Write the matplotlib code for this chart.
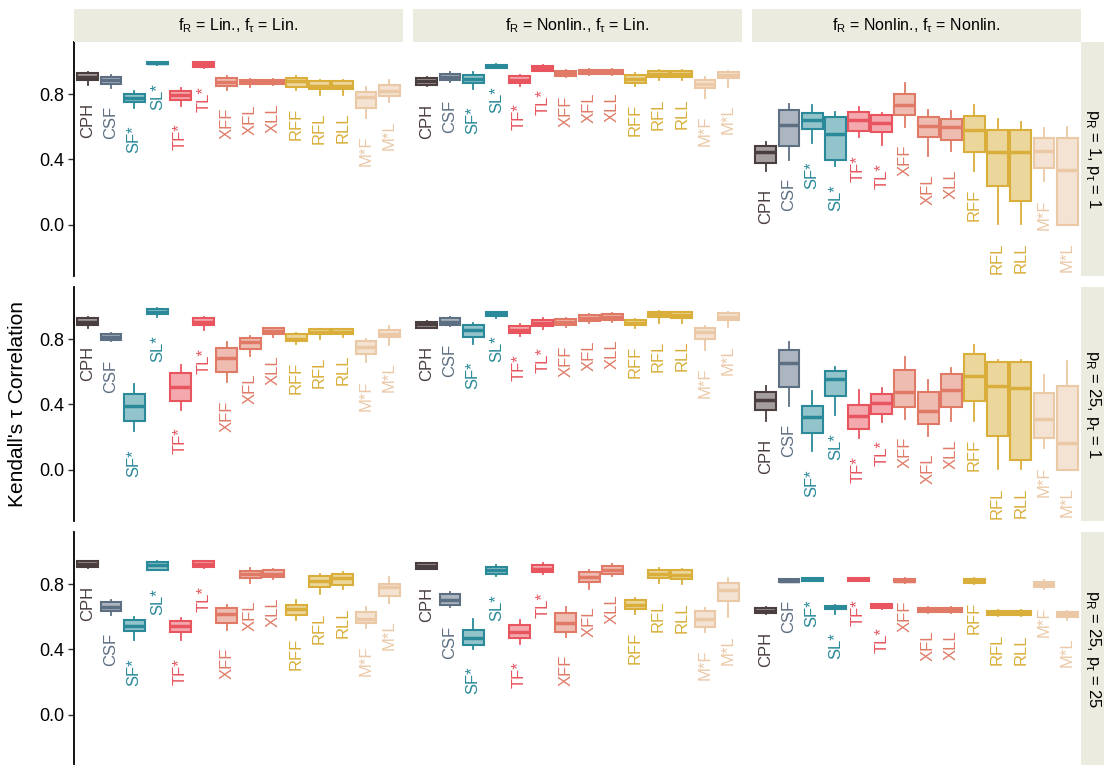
import matplotlib
matplotlib.use("Agg")
import matplotlib.pyplot as plt
from matplotlib.colors import to_rgba
from matplotlib.patches import Rectangle

plt.rcParams['font.family'] = ['Liberation Sans', 'DejaVu Sans']

methods = ["CPH", "CSF", "SF*", "SL*", "TF*", "TL*", "XFF", "XFL", "XLL",
           "RFF", "RFL", "RLL", "M*F", "M*L"]
colors = ["#4a3e3e", "#5d6f82", "#2a8a99", "#2a8a99", "#e8555f", "#e8555f",
          "#e07a66", "#e07a66", "#e07a66", "#d9ae3a", "#d9ae3a", "#d9ae3a",
          "#ebc8a6", "#ebc8a6"]

col_titles = ["f$_\\mathregular{R}$ = Lin., f$_\\mathregular{τ}$ = Lin.",
              "f$_\\mathregular{R}$ = Nonlin., f$_\\mathregular{τ}$ = Lin.",
              "f$_\\mathregular{R}$ = Nonlin., f$_\\mathregular{τ}$ = Nonlin."]
row_titles = ["p$_\\mathregular{R}$ = 1, p$_\\mathregular{τ}$ = 1",
              "p$_\\mathregular{R}$ = 25, p$_\\mathregular{τ}$ = 1",
              "p$_\\mathregular{R}$ = 25, p$_\\mathregular{τ}$ = 25"]

# (whisker low, q1, median, q3, whisker high) for each method
lin_lin_p1 = [
    (0.857, 0.884, 0.904, 0.929, 0.939), (0.839, 0.863, 0.884, 0.908, 0.920),
    (0.716, 0.751, 0.776, 0.802, 0.822), (0.978, 0.986, 0.994, 1.000, 1.000),
    (0.729, 0.765, 0.792, 0.822, 0.839), (0.961, 0.969, 0.986, 0.996, 1.000),
    (0.827, 0.853, 0.873, 0.898, 0.914), (0.847, 0.863, 0.876, 0.888, 0.892),
    (0.855, 0.863, 0.876, 0.888, 0.892), (0.827, 0.847, 0.878, 0.900, 0.914),
    (0.796, 0.833, 0.853, 0.878, 0.888), (0.798, 0.833, 0.853, 0.878, 0.884),
    (0.655, 0.716, 0.782, 0.816, 0.847), (0.751, 0.786, 0.822, 0.859, 0.884)]
nonlin_lin_p1 = [
    (0.851, 0.857, 0.878, 0.902, 0.904), (0.873, 0.884, 0.904, 0.924, 0.935),
    (0.833, 0.867, 0.894, 0.920, 0.935), (0.959, 0.963, 0.971, 0.980, 0.984),
    (0.853, 0.871, 0.890, 0.910, 0.920), (0.941, 0.945, 0.959, 0.971, 0.978),
    (0.904, 0.912, 0.929, 0.943, 0.949), (0.920, 0.924, 0.937, 0.949, 0.953),
    (0.920, 0.924, 0.937, 0.949, 0.953), (0.853, 0.869, 0.894, 0.918, 0.929),
    (0.884, 0.908, 0.924, 0.941, 0.949), (0.884, 0.908, 0.924, 0.941, 0.949),
    (0.778, 0.837, 0.863, 0.888, 0.904), (0.847, 0.898, 0.918, 0.939, 0.945)]
nonlin_nonlin_p1 = [
    (0.329, 0.380, 0.445, 0.480, 0.506), (0.398, 0.482, 0.608, 0.704, 0.737),
    (0.500, 0.588, 0.643, 0.686, 0.731), (0.357, 0.394, 0.553, 0.659, 0.690),
    (0.537, 0.573, 0.643, 0.690, 0.720), (0.486, 0.569, 0.622, 0.671, 0.686),
    (0.598, 0.673, 0.735, 0.802, 0.867), (0.418, 0.537, 0.604, 0.659, 0.704),
    (0.449, 0.520, 0.598, 0.645, 0.694), (0.327, 0.445, 0.582, 0.669, 0.731),
    (0.002, 0.235, 0.445, 0.582, 0.649), (0.002, 0.145, 0.445, 0.582, 0.629),
    (0.265, 0.347, 0.449, 0.531, 0.592), (0.000, 0.000, 0.337, 0.533, 0.598)]
lin_lin_p25 = [
    (0.867, 0.888, 0.908, 0.928, 0.934), (0.786, 0.796, 0.816, 0.831, 0.837),
    (0.236, 0.301, 0.389, 0.464, 0.525), (0.934, 0.953, 0.967, 0.985, 0.991),
    (0.368, 0.419, 0.507, 0.592, 0.639), (0.857, 0.884, 0.904, 0.928, 0.939),
    (0.535, 0.598, 0.684, 0.745, 0.780), (0.698, 0.741, 0.782, 0.810, 0.820),
    (0.812, 0.831, 0.849, 0.867, 0.871), (0.769, 0.790, 0.800, 0.831, 0.837),
    (0.800, 0.833, 0.847, 0.861, 0.865), (0.816, 0.833, 0.847, 0.861, 0.865),
    (0.657, 0.710, 0.755, 0.786, 0.800), (0.765, 0.812, 0.833, 0.857, 0.881)]
nonlin_lin_p25 = [
    (0.867, 0.871, 0.892, 0.908, 0.914), (0.881, 0.888, 0.908, 0.928, 0.934),
    (0.771, 0.816, 0.857, 0.888, 0.902), (0.932, 0.943, 0.955, 0.965, 0.969),
    (0.820, 0.837, 0.857, 0.881, 0.894), (0.861, 0.881, 0.898, 0.918, 0.928),
    (0.873, 0.888, 0.904, 0.922, 0.928), (0.902, 0.914, 0.932, 0.949, 0.955),
    (0.908, 0.918, 0.939, 0.957, 0.963), (0.867, 0.884, 0.902, 0.918, 0.924),
    (0.902, 0.934, 0.953, 0.965, 0.975), (0.902, 0.932, 0.949, 0.965, 0.969),
    (0.735, 0.800, 0.847, 0.871, 0.881), (0.873, 0.918, 0.939, 0.963, 0.969)]
nonlin_nonlin_p25 = [
    (0.297, 0.368, 0.429, 0.474, 0.515), (0.393, 0.507, 0.653, 0.735, 0.780),
    (0.114, 0.222, 0.323, 0.393, 0.480), (0.332, 0.450, 0.556, 0.602, 0.629),
    (0.195, 0.250, 0.327, 0.395, 0.486), (0.291, 0.344, 0.409, 0.464, 0.501),
    (0.311, 0.385, 0.476, 0.613, 0.690), (0.209, 0.281, 0.362, 0.474, 0.552),
    (0.297, 0.385, 0.490, 0.586, 0.623), (0.297, 0.419, 0.572, 0.710, 0.765),
    (0.002, 0.205, 0.511, 0.657, 0.670), (0.002, 0.057, 0.501, 0.657, 0.670),
    (0.130, 0.191, 0.311, 0.470, 0.582), (0.000, 0.000, 0.165, 0.515, 0.664)]
lin_lin_p25_25 = [
    (0.900, 0.906, 0.925, 0.941, 0.945), (0.614, 0.636, 0.661, 0.688, 0.706),
    (0.456, 0.512, 0.544, 0.579, 0.600), (0.886, 0.890, 0.917, 0.937, 0.943),
    (0.456, 0.506, 0.544, 0.575, 0.593), (0.900, 0.906, 0.925, 0.941, 0.945),
    (0.522, 0.565, 0.620, 0.655, 0.671), (0.808, 0.835, 0.861, 0.880, 0.900),
    (0.829, 0.845, 0.865, 0.886, 0.896), (0.579, 0.614, 0.647, 0.675, 0.706),
    (0.737, 0.784, 0.818, 0.851, 0.865), (0.769, 0.798, 0.835, 0.861, 0.876),
    (0.532, 0.559, 0.589, 0.630, 0.657), (0.685, 0.726, 0.784, 0.804, 0.841)]
nonlin_lin_p25_25 = [
    (0.892, 0.896, 0.912, 0.927, 0.931), (0.657, 0.675, 0.706, 0.737, 0.753),
    (0.405, 0.430, 0.471, 0.522, 0.589), (0.849, 0.865, 0.886, 0.906, 0.917),
    (0.436, 0.467, 0.508, 0.548, 0.579), (0.861, 0.876, 0.896, 0.917, 0.927),
    (0.477, 0.508, 0.565, 0.624, 0.661), (0.773, 0.814, 0.845, 0.876, 0.890),
    (0.849, 0.865, 0.886, 0.910, 0.921), (0.616, 0.645, 0.675, 0.702, 0.718),
    (0.810, 0.835, 0.861, 0.890, 0.900), (0.800, 0.829, 0.855, 0.886, 0.894),
    (0.508, 0.538, 0.589, 0.636, 0.651), (0.596, 0.698, 0.763, 0.808, 0.839)]
nonlin_nonlin_p25_25 = [
    (0.620, 0.624, 0.636, 0.651, 0.661), (0.812, 0.814, 0.822, 0.831, 0.833),
    (0.818, 0.820, 0.829, 0.837, 0.839), (0.618, 0.649, 0.659, 0.669, 0.673),
    (0.818, 0.820, 0.829, 0.837, 0.839), (0.645, 0.655, 0.665, 0.677, 0.681),
    (0.810, 0.812, 0.822, 0.831, 0.835), (0.624, 0.630, 0.643, 0.655, 0.661),
    (0.624, 0.630, 0.643, 0.655, 0.661), (0.804, 0.808, 0.818, 0.829, 0.835),
    (0.604, 0.612, 0.624, 0.636, 0.640), (0.604, 0.612, 0.624, 0.636, 0.640),
    (0.773, 0.784, 0.800, 0.814, 0.825), (0.583, 0.600, 0.616, 0.630, 0.636)]

grid = [[lin_lin_p1, nonlin_lin_p1, nonlin_nonlin_p1],
        [lin_lin_p25, nonlin_lin_p25, nonlin_nonlin_p25],
        [lin_lin_p25_25, nonlin_lin_p25_25, nonlin_nonlin_p25_25]]

STRIP = "#ecebdf"
W, H = 1104, 765


def draw_panel(ax, stats):
    pos = list(range(1, len(methods) + 1))
    bstats = [dict(whislo=s[0], q1=s[1], med=s[2], q3=s[3], whishi=s[4])
              for s in stats]
    art = ax.bxp(bstats, positions=pos, widths=0.9, patch_artist=True,
                 showcaps=False, showfliers=False, manage_ticks=False)
    for i, c in enumerate(colors):
        art['boxes'][i].set_facecolor(to_rgba(c, 0.5))
        art['boxes'][i].set_edgecolor(c)
        art['boxes'][i].set_linewidth(1.5)
        art['medians'][i].set_color(c)
        art['medians'][i].set_linewidth(2.5)
        for w in art['whiskers'][2 * i:2 * i + 2]:
            w.set_color(c)
            w.set_linewidth(1.3)
    # method names under each lower whisker
    for p, s, m, c in zip(pos, stats, methods, colors):
        ax.text(p, s[0] - 0.11, m, rotation=90, ha='center', va='top',
                color=c, fontsize=12, clip_on=False)
    ax.set_xlim(0.4, 14.6)
    ax.set_ylim(-0.315, 1.12)


fig = plt.figure(figsize=(W / 100, H / 100), dpi=100)

col_left = [74, 413, 752]
col_w = 329
row_top = [42, 287, 532]
row_h = 234

for r in range(3):
    for c in range(3):
        ax = fig.add_axes([col_left[c] / W, 1 - (row_top[r] + row_h) / H,
                           col_w / W, row_h / H])
        draw_panel(ax, grid[r][c])
        for side in ['top', 'right', 'bottom']:
            ax.spines[side].set_visible(False)
        ax.set_xticks([])
        if c == 0:
            ax.spines['left'].set_linewidth(1.3)
            ax.set_yticks([0.0, 0.4, 0.8])
            ax.set_yticklabels(["0.0", "0.4", "0.8"])
            ax.tick_params(axis='y', labelsize=13, length=4, width=1,
                           color='#333333', pad=3)
        else:
            ax.spines['left'].set_visible(False)
            ax.set_yticks([])

# facet strips on top
for c in range(3):
    fig.add_artist(Rectangle((col_left[c] / W, 1 - 42 / H), col_w / W, 33 / H,
                             transform=fig.transFigure, facecolor=STRIP,
                             edgecolor='none'))
    fig.text((col_left[c] + col_w / 2) / W, 1 - 25.5 / H, col_titles[c],
             ha='center', va='center', fontsize=11.5)

# facet strips on the right
for r in range(3):
    fig.add_artist(Rectangle((1081 / W, 1 - (row_top[r] + row_h) / H),
                             23 / W, row_h / H, transform=fig.transFigure,
                             facecolor=STRIP, edgecolor='none'))
    fig.text(1093 / W, 1 - (row_top[r] + row_h / 2) / H, row_titles[r],
             rotation=-90, ha='center', va='center', fontsize=12)

fig.text(18 / W, 1 - 404 / H, "Kendall's τ Correlation", rotation=90,
         ha='center', va='center', fontsize=15)

fig.savefig("out.png", dpi=100)
